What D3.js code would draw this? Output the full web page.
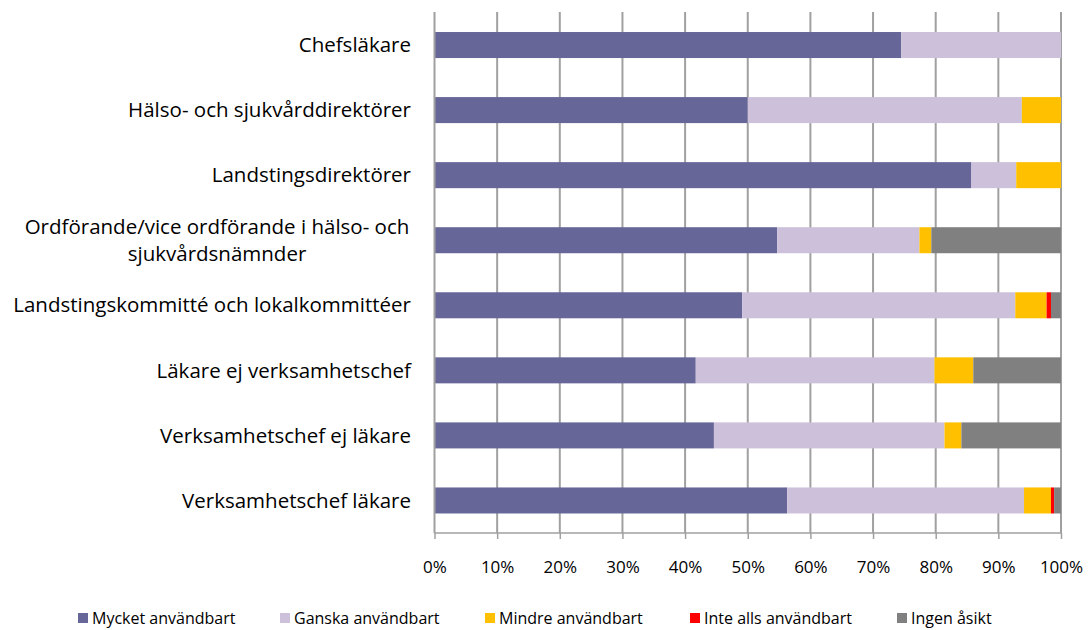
<!DOCTYPE html>
<html><head><meta charset="utf-8">
<script src="https://cdn.jsdelivr.net/npm/d3@7"></script>
<style>body{margin:0;background:#fff}svg{display:block}</style>
</head><body>
<svg id="c" width="1089" height="630"></svg>
<script>
const categories = [
  ["Chefsläkare"],
  ["Hälso- och sjukvårddirektörer"],
  ["Landstingsdirektörer"],
  ["Ordförande/vice ordförande i hälso- och", "sjukvårdsnämnder"],
  ["Landstingskommitté och lokalkommittéer"],
  ["Läkare ej verksamhetschef"],
  ["Verksamhetschef ej läkare"],
  ["Verksamhetschef läkare"]
];
const seriesNames = ["Mycket användbart","Ganska användbart","Mindre användbart","Inte alls användbart","Ingen åsikt"];
const mycket  = [74.5, 50.0, 85.7, 54.7, 49.1, 41.7, 44.6, 56.3];
const ganska  = [25.5, 43.75, 7.15, 22.7, 43.6, 38.1, 36.8, 37.8];
const mindre  = [0, 6.25, 7.15, 1.9, 5.0, 6.2, 2.7, 4.3];
const inteAlls= [0, 0, 0, 0, 0.7, 0, 0, 0.5];
const ingen   = [0, 0, 0, 20.7, 1.6, 14.0, 15.9, 1.1];
const tickValues = [0,10,20,30,40,50,60,70,80,90,100];
const colors = ["#666699","#CCC0DA","#FFC000","#FF0000","#808080"];

const svg = d3.select("#c");
const font = "'Open Sans', sans-serif";
const x = d3.scaleLinear().domain([0,100]).range([434.5,1061]);
const y = d3.scaleBand().domain(d3.range(categories.length)).range([12.5,533]).paddingInner(0.6).paddingOuter(0.3);

const stackData = categories.map((c,i)=>{
  const vals=[mycket[i],ganska[i],mindre[i],inteAlls[i],ingen[i]];
  const o={i}; seriesNames.forEach((s,k)=>o[s]=vals[k]); return o;});
const stacked = d3.stack().keys(seriesNames)(stackData);

// gridlines
svg.append("g").selectAll("line").data(tickValues.slice(1)).join("line")
  .attr("x1",d=>x(d)).attr("x2",d=>x(d)).attr("y1",12).attr("y2",533)
  .attr("stroke","#a0a0a0").attr("stroke-width",2);

// bars
svg.append("g").selectAll("g").data(stacked).join("g")
  .attr("fill",(d,k)=>colors[k])
  .selectAll("rect").data(d=>d).join("rect")
  .attr("x",d=>x(d[0])).attr("width",d=>Math.max(0,x(d[1])-x(d[0])))
  .attr("y",d=>y(d.data.i)).attr("height",y.bandwidth());

// left axis line
svg.append("line").attr("x1",x(0)).attr("x2",x(0)).attr("y1",12).attr("y2",533)
  .attr("stroke","#a0a0a0").attr("stroke-width",2);

// bottom axis
const xAxis = d3.axisBottom(x).tickValues(tickValues).tickFormat(d=>d+"%").tickSize(6).tickPadding(22);
const ga = svg.append("g").attr("transform","translate(0,533)").call(xAxis);
ga.select(".domain").attr("stroke","#a0a0a0").attr("stroke-width",1.5).attr("d","M"+x(0)+",0H"+x(100));
ga.selectAll(".tick line").attr("stroke","#a0a0a0").attr("stroke-width",1.5);
ga.selectAll(".tick text").attr("font-family",font).attr("font-size",17).attr("fill","#000");

// category labels
const lab = svg.append("g").selectAll("text").data(categories).join("text")
  .attr("font-family",font).attr("font-size",20.5).attr("fill","#000")
  .attr("text-anchor",d=>d.length>1?"middle":"end")
  .attr("transform",(d,i)=>`translate(${d.length>1?217:411},${y(i)+y.bandwidth()/2})`);
lab.each(function(d){
  const t=d3.select(this);
  const n=d.length;
  d.forEach((line,j)=>{
    t.append("tspan").attr("x",0).attr("y",(j-(n-1)/2)*27).attr("dy","0.35em").text(line);
  });
});

// legend
const legX = [78,280,485,690,897];
const lg = svg.append("g").selectAll("g").data(seriesNames).join("g")
  .attr("transform",(d,k)=>`translate(${legX[k]},618)`);
lg.append("rect").attr("x",0).attr("y",-5).attr("width",10).attr("height",10).attr("fill",(d,k)=>colors[k]);
lg.append("text").attr("x",14).attr("dy","0.35em").attr("font-family",font).attr("font-size",16).text(d=>d);
</script>
</body></html>
